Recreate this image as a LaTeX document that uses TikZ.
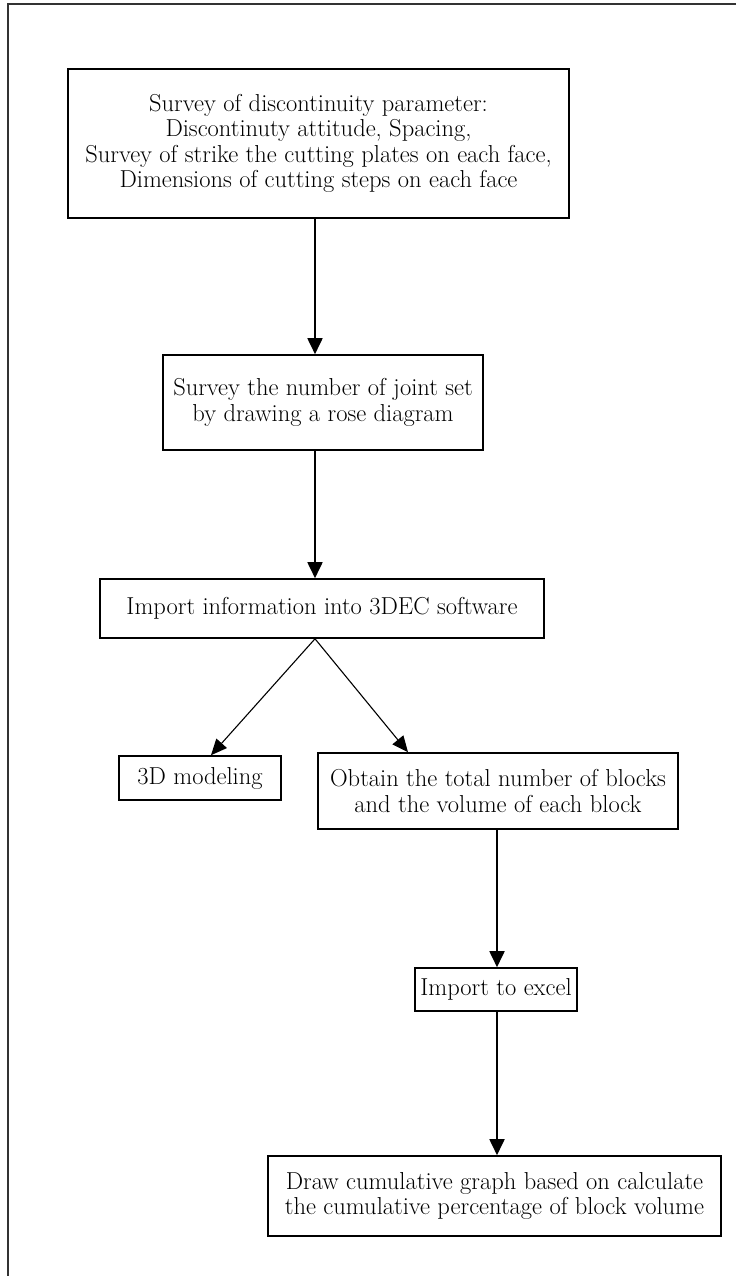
\documentclass[tikz,border=0pt]{standalone}
\usepackage{tikz}
\usetikzlibrary{arrows.meta,positioning,calc}
\tikzset{
  stepbox/.style={rectangle, draw=black, line width=1.6pt, align=center, inner sep=0pt, font=\fontsize{24.5}{25.5}\selectfont},
  flow/.style={-{Triangle[length=16pt,width=15pt]}, line width=1.8pt},
  branch/.style={-{Triangle[length=16pt,width=14pt]}, line width=1.1pt}
}

\begin{document}
\begin{tikzpicture}[x=1pt, y=-1pt]
    \useasboundingbox (0,0) rectangle (736,1276);

    % Frame
    \draw[line width=2pt, black!80] (736,4) -- (8,4) -- (8,1276);

    % Nodes
    \node [stepbox, minimum width=501pt, minimum height=149pt] (survey) at (318.5,143.5) {Survey of discontinuity parameter:\\ Discontinuty attitude, Spacing,\\ Survey of strike the cutting plates on each face,\\ Dimensions of cutting steps on each face};
    \node [stepbox, minimum width=320pt, minimum height=95pt, below of=survey, node distance=259pt, xshift=4.5pt] (jointset) {Survey the number of joint set\\ by drawing a rose diagram};
    \node [stepbox, minimum width=444pt, minimum height=59pt, below of=jointset, node distance=206pt, xshift=-1pt] (import) {Import information into 3DEC software};
    \node [stepbox, minimum width=162pt, minimum height=44pt, below of=import, node distance=169.5pt, xshift=-122pt] (modeling) {3D modeling};
    \node [stepbox, minimum width=360pt, minimum height=76pt, below of=import, node distance=182.5pt, xshift=176pt] (blocks) {Obtain the total number of blocks\\ and the volume of each block};
    \node [stepbox, minimum width=162pt, minimum height=43pt, below of=blocks, node distance=198.5pt, xshift=-2pt] (excel) {Import to excel};
    \node [stepbox, minimum width=453pt, minimum height=80pt, below of=excel, node distance=206.5pt, xshift=-1.5pt] (graph) {Draw cumulative graph based on calculate\\ the cumulative percentage of block volume};

    \coordinate (spine) at (315,0);
    \coordinate (spineB) at (497,0);

    % Edges
    \draw[flow] (survey.south -| spine) -- (jointset.north -| spine);
    \draw[flow] (jointset.south -| spine) -- (import.north -| spine);
    \draw[branch] (import.south -| spine) -- ([xshift=11pt]modeling.north);
    \draw[branch] (import.south -| spine) -- ([xshift=-90pt]blocks.north);
    \draw[flow] (blocks.south -| spineB) -- (excel.north -| spineB);
    \draw[flow] (excel.south -| spineB) -- (graph.north -| spineB);

\end{tikzpicture}
\end{document}
